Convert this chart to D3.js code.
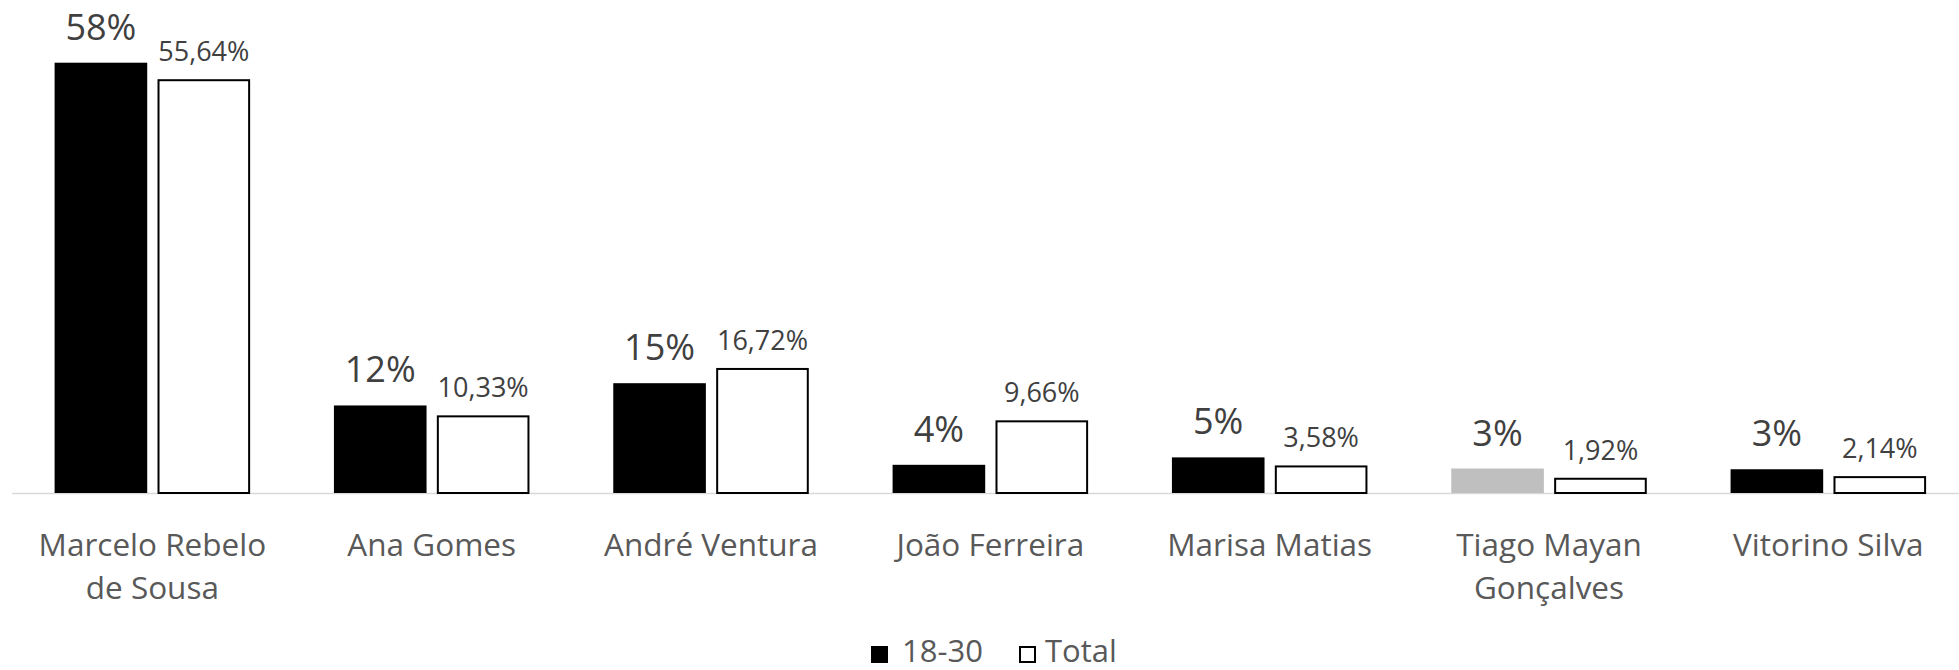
<!DOCTYPE html>
<html>
<head>
<meta charset="utf-8">
<script src="https://cdn.jsdelivr.net/npm/d3@7"></script>
<style>
  body { margin: 0; background: #fff; }
  text { font-family: "Open Sans", sans-serif; }
</style>
</head>
<body>
<div id="chart"></div>
<script>
const categories = ["Marcelo Rebelo de Sousa", "Ana Gomes", "André Ventura", "João Ferreira", "Marisa Matias", "Tiago Mayan Gonçalves", "Vitorino Silva"];
const categoryLines = [["Marcelo Rebelo", "de Sousa"], ["Ana Gomes"], ["André Ventura"], ["João Ferreira"], ["Marisa Matias"], ["Tiago Mayan", "Gonçalves"], ["Vitorino Silva"]];
const series = ["18-30", "Total"];
const youth = [58.0, 11.8, 14.8, 3.8, 4.8, 3.3, 3.2];
const youthLabels = ["58%", "12%", "15%", "4%", "5%", "3%", "3%"];
const total = [55.64, 10.33, 16.72, 9.66, 3.58, 1.92, 2.14];
const totalLabels = ["55,64%", "10,33%", "16,72%", "9,66%", "3,58%", "1,92%", "2,14%"];

const width = 1959;
const height = 670;
const baseY = 493;

const svg = d3.select("#chart")
  .append("svg")
  .attr("width", width)
  .attr("height", height);

const x0 = d3.scaleBand()
  .domain(categories)
  .range([12.7, 1968])
  .paddingInner(0.3)
  .paddingOuter(0.15);

const x1 = d3.scaleBand()
  .domain(series)
  .range([0, x0.bandwidth()])
  .paddingInner(0.1);

const y = d3.scaleLinear()
  .domain([0, 58])
  .range([baseY, 62.7]);

// bar fills; the Tiago bar is grey in the original
const youthFill = d => d.cat === "Tiago Mayan Gonçalves" ? "#bfbfbf" : "#000";

const rows = categories.map((c, i) => ({
  cat: c, lines: categoryLines[i],
  youth: youth[i], youthLabel: youthLabels[i],
  total: total[i], totalLabel: totalLabels[i]
}));

// axis line
svg.append("line")
  .attr("x1", 12).attr("x2", width)
  .attr("y1", baseY + 0.5).attr("y2", baseY + 0.5)
  .attr("stroke", "#d9d9d9")
  .attr("stroke-width", 1.5);

const groups = svg.selectAll(".grp")
  .data(rows)
  .enter().append("g")
  .attr("class", "grp")
  .attr("transform", d => `translate(${x0(d.cat)},0)`);

groups.append("rect")
  .attr("x", x1("18-30"))
  .attr("y", d => y(d.youth))
  .attr("width", x1.bandwidth())
  .attr("height", d => baseY - y(d.youth))
  .attr("fill", youthFill);

groups.append("rect")
  .attr("x", x1("Total") + 1)
  .attr("y", d => y(d.total))
  .attr("width", x1.bandwidth() - 2)
  .attr("height", d => baseY - y(d.total))
  .attr("fill", "#fff")
  .attr("stroke", "#000")
  .attr("stroke-width", 2);

groups.append("text")
  .attr("x", x1("18-30") + x1.bandwidth() / 2)
  .attr("y", d => y(d.youth) - 23)
  .attr("text-anchor", "middle")
  .attr("font-size", 36)
  .attr("fill", "#404040")
  .text(d => d.youthLabel);

groups.append("text")
  .attr("x", x1("Total") + x1.bandwidth() / 2)
  .attr("y", d => y(d.total) - 19)
  .attr("text-anchor", "middle")
  .attr("font-size", 27)
  .attr("fill", "#404040")
  .text(d => d.totalLabel);

// category labels
const cl = groups.append("text")
  .attr("text-anchor", "middle")
  .attr("font-size", 31.5)
  .attr("fill", "#595959");

cl.selectAll("tspan")
  .data(d => d.lines)
  .enter().append("tspan")
  .attr("x", x0.bandwidth() / 2)
  .attr("y", (d, i) => 556 + i * 43)
  .text(d => d);

// legend
const legend = svg.append("g")
  .attr("class", "legend")
  .attr("transform", "translate(871,646)");

const legendItems = legend.selectAll(".legend-item")
  .data(series)
  .enter().append("g")
  .attr("class", "legend-item")
  .attr("transform", (d, i) => `translate(${i * 148},0)`);

legendItems.append("rect")
  .attr("x", (d, i) => i ? 1 : 0)
  .attr("y", (d, i) => i ? 1 : 0)
  .attr("width", (d, i) => i ? 15 : 17)
  .attr("height", (d, i) => i ? 15 : 17)
  .attr("fill", (d, i) => i ? "#fff" : "#000")
  .attr("stroke", (d, i) => i ? "#000" : "none")
  .attr("stroke-width", 2);

legendItems.append("text")
  .attr("x", (d, i) => i ? 26 : 31)
  .attr("y", 16)
  .attr("font-size", 31)
  .attr("fill", "#595959")
  .text(d => d);
</script>
</body>
</html>
